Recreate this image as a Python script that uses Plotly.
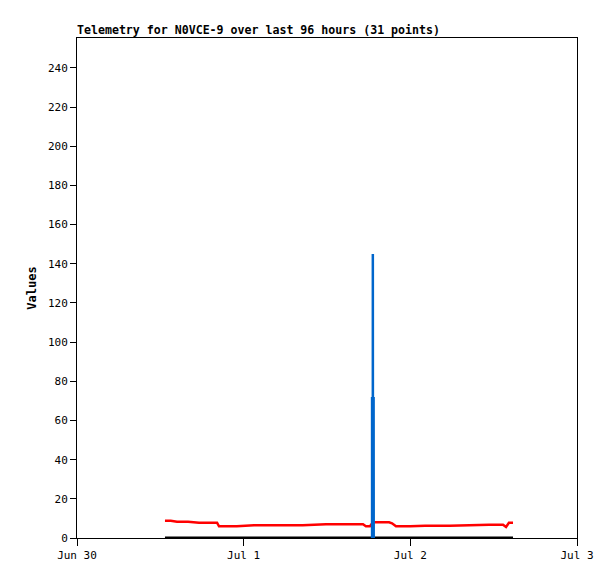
import plotly.graph_objects as go

# Telemetry series (31 points)
red_times = [
    "2024-06-30 12:40", "2024-06-30 13:30", "2024-06-30 14:24", "2024-06-30 16:00",
    "2024-06-30 17:34", "2024-06-30 19:00", "2024-06-30 20:10", "2024-06-30 20:27",
    "2024-06-30 23:00", "2024-07-01 01:29", "2024-07-01 05:00", "2024-07-01 08:30",
    "2024-07-01 11:51", "2024-07-01 14:30", "2024-07-01 17:11", "2024-07-01 17:36",
    "2024-07-01 18:11", "2024-07-01 18:37", "2024-07-01 20:00", "2024-07-01 20:56",
    "2024-07-01 21:22", "2024-07-01 21:56", "2024-07-02 00:00", "2024-07-02 02:07",
    "2024-07-02 05:40", "2024-07-02 09:19", "2024-07-02 11:20", "2024-07-02 13:21",
    "2024-07-02 13:47", "2024-07-02 14:12", "2024-07-02 14:47",
]
red_values = [
    8.8, 8.8, 8.3, 8.3, 7.8, 7.8, 7.8, 6.0,
    6.0, 6.5, 6.5, 6.5, 7.0, 7.0, 7.0, 6.0,
    6.0, 8.0, 8.0, 8.0, 7.5, 6.0, 6.0, 6.3,
    6.3, 6.8, 6.8, 6.8, 5.6, 7.8, 7.8,
]

black_times = [red_times[0], red_times[-1]]
black_values = [0, 0]

spike_times = ["2024-07-01 18:36", "2024-07-01 18:36", "2024-07-01 18:37"]
spike_values = [0, 145, 0]
spike2_times = ["2024-07-01 18:36", "2024-07-01 18:36", "2024-07-01 18:37"]
spike2_values = [0, 72, 0]

tick_vals = ["2024-06-30", "2024-07-01", "2024-07-02", "2024-07-03"]
tick_text = ["Jun 30", "Jul 1", "Jul 2", "Jul 3"]
y_ticks = list(range(0, 241, 20))

FONT = "DejaVu Sans Mono"
W, H = 607, 571  # page body has an 8px margin

fig = go.Figure()
fig.add_trace(go.Scatter(x=black_times, y=black_values, mode="lines",
                         line=dict(color="black", width=3)))
fig.add_trace(go.Scatter(x=red_times, y=red_values, mode="lines",
                         line=dict(color="#ff0000", width=2.5)))
fig.add_trace(go.Scatter(x=spike2_times, y=spike2_values, mode="lines",
                         line=dict(color="#0066cc", width=4)))
fig.add_trace(go.Scatter(x=spike_times, y=spike_values, mode="lines",
                         line=dict(color="#0066cc", width=2.5)))

fig.update_layout(
    width=W, height=H,
    margin=dict(l=69, r=38, t=30, b=41),
    paper_bgcolor="white", plot_bgcolor="white",
    showlegend=False,
    font=dict(family=FONT, size=11, color="black"),
    title=dict(text="<b>Telemetry for N0VCE-9 over last 96 hours (31 points)</b>",
               x=69 / W, xanchor="left", y=1 - 22 / H, yanchor="middle",
               font=dict(family=FONT, size=11.6, color="black")),
)
fig.update_xaxes(
    type="date", range=["2024-06-30", "2024-07-03"],
    tickvals=tick_vals, ticktext=tick_text,
    ticks="outside", ticklen=7, tickcolor="black",
    showgrid=False, zeroline=False,
    showline=True, linecolor="black", linewidth=1, mirror=True,
)
fig.update_yaxes(
    range=[0, 255.3], tickvals=y_ticks,
    ticks="outside", ticklen=6, tickcolor="black",
    showgrid=False, zeroline=False,
    showline=True, linecolor="black", linewidth=1, mirror=True,
    title=dict(text="<b>Values</b>", standoff=8, font=dict(family=FONT, size=12)),
)

fig.write_html("out.html")
